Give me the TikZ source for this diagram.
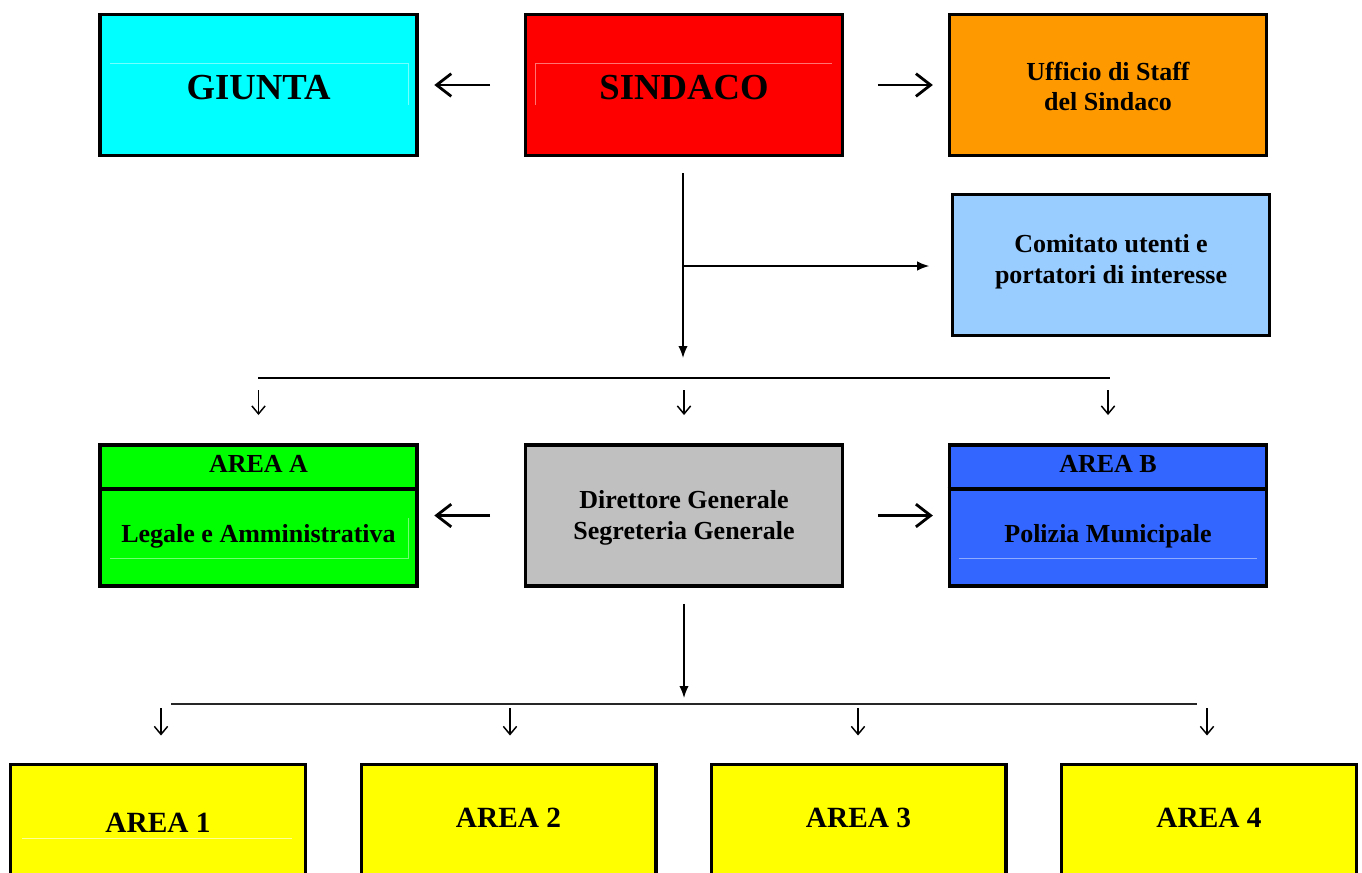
\documentclass[tikz,border=0pt]{standalone}
\usepackage{fontspec}
\setmainfont{Liberation Serif}
\usetikzlibrary{arrows.meta,calc}
\definecolor{cgiunta}{HTML}{00FFFF}
\definecolor{csind}{HTML}{FF0000}
\definecolor{cuff}{HTML}{FF9900}
\definecolor{ccom}{HTML}{99CCFF}
\definecolor{cgreen}{HTML}{00FF00}
\definecolor{cgray}{HTML}{C0C0C0}
\definecolor{cblue}{HTML}{3366FF}
\definecolor{cyel}{HTML}{FFFF00}
\begin{document}
\begin{tikzpicture}[x=0.75pt,y=-0.75pt,
  box/.style={draw=black, line width=2.7pt, minimum width=238pt, minimum height=106pt, inner sep=0pt},
  ybox/.style={draw=black, line width=2.5pt, fill=cyel, minimum width=221pt, minimum height=105pt, inner sep=0pt},
  lbl/.style={font=\bfseries\fontsize{19.5}{23}\selectfont, inner sep=0pt, anchor=base},
  biglbl/.style={font=\bfseries\fontsize{27.5}{32}\selectfont, inner sep=0pt, anchor=base},
  arealbl/.style={font=\bfseries\fontsize{22}{26}\selectfont, inner sep=0pt, anchor=base},
  gbig/.style={line width=2.1pt, -{Straight Barb[length=11pt,width=17pt,line width=2.1pt]}},
  gsmall/.style={line width=1.1pt, -{Straight Barb[length=6pt,width=10pt,line width=1.1pt]}},
  conn/.style={line width=1.1pt, -{Latex[length=9pt,width=7pt]}},
  busline/.style={line width=1.5pt},
  faint/.style={line width=0.6pt}
]
\useasboundingbox (0,0) rectangle (1362,872);
\clip (0,0) rectangle (1362,872);

% top row
\node[box, fill=cgiunta] (giunta) at (258.5,85) {};
\node[box, fill=csind] (sindaco) at (684,85) {};
\node[box, fill=cuff] (ufficio) at (1108,85) {};
\draw[faint, draw=cgiunta!55!white] (110,63) -- (408,63) -- (408,105);
\draw[faint, draw=csind!55!white] (832,63) -- (535,63) -- (535,105);
\node[biglbl] (tgiunta) at (258.5,99) {GIUNTA};
\node[biglbl] (tsindaco) at (684,99) {SINDACO};
\node[lbl] (tuff1) at (1108,80) {Ufficio di Staff};
\node[lbl] (tuff2) at (1108,110) {del Sindaco};

\draw[gbig, shorten <=25pt, shorten >=11.5pt] (sindaco.west) -- (giunta.east);
\draw[gbig, shorten <=25pt, shorten >=11pt] (sindaco.east) -- (ufficio.west);

% comitato
\node[box, fill=ccom] (comitato) at (1111,265) {};
\node[lbl] (tcom1) at (1111,252) {Comitato utenti e};
\node[lbl] (tcom2) at (1111,283) {portatori di interesse};

\coordinate (sdown) at (683,358);
\coordinate (branch) at (683,266);
\draw[conn, shorten <=12pt] (sindaco.south -| sdown) -- (sdown);
\draw[conn, shorten >=16pt] (branch) -- (branch -| comitato.west);

% bus 1
\coordinate (bus1L) at (258,378);
\coordinate (bus1R) at (1110,378);
\draw[busline] (bus1L) -- (bus1R);

% middle row
\node[box, fill=cgreen] (areaA) at (258.5,515.5) {};
\node[box, fill=cgray] (dir) at (684,515.5) {};
\node[box, fill=cblue] (areaB) at (1108,515.5) {};
\draw[line width=2.4pt] (areaA.west |- 0,489) -- (areaA.east |- 0,489);
\draw[line width=2.4pt] (areaB.west |- 0,489) -- (areaB.east |- 0,489);
\draw[faint, draw=cgreen!55!white] (110,558) -- (408,558) -- (408,518);
\draw[faint, draw=cblue!55!white] (959,558) -- (1257,558);
\node[lbl] (tareaA) at (258.5,472) {AREA A};
\node[lbl] (tlegale) at (258.5,542) {Legale e Amministrativa};
\node[lbl] (tdir1) at (684,508) {Direttore Generale};
\node[lbl] (tdir2) at (684,539) {Segreteria Generale};
\node[lbl] (tareaB) at (1108,472) {AREA B};
\node[lbl] (tpol) at (1108,542) {Polizia Municipale};

\draw[gsmall, shorten <=9pt, shorten >=21pt] (areaA.north |- bus1L) -- (areaA.north);
\draw[gsmall, shorten <=9pt, shorten >=21pt] (dir.north |- bus1L) -- (dir.north);
\draw[gsmall, shorten <=9pt, shorten >=21pt] (areaB.north |- bus1L) -- (areaB.north);

\draw[gbig, shorten <=25pt, shorten >=11.5pt] (dir.west) -- (areaA.east);
\draw[gbig, shorten <=25pt, shorten >=11pt] (dir.east) -- (areaB.west);

% bus 2
\coordinate (ddown) at (684,698);
\draw[conn, shorten <=12pt] (dir.south) -- (ddown);
\coordinate (bus2L) at (171,704);
\coordinate (bus2R) at (1197,704);
\draw[busline, line width=1.2pt, draw=black!85] (bus2L) -- (bus2R);

% bottom row
\node[ybox] (a1) at (158,834.5) {};
\node[ybox] (a2) at (508.5,834.5) {};
\node[ybox] (a3) at (858.5,834.5) {};
\node[ybox] (a4) at (1209,834.5) {};
\draw[faint, draw=cyel!40!white] (22,838) -- (292,838);
\node[arealbl] (ta1) at (158,832) {AREA 1};
\node[arealbl] (ta2) at (508.5,827) {AREA 2};
\node[arealbl] (ta3) at (858.5,827) {AREA 3};
\node[arealbl] (ta4) at (1209,827) {AREA 4};

\coordinate (t1) at (161,704);
\coordinate (t2) at (510,704);
\coordinate (t3) at (858,704);
\coordinate (t4) at (1207,704);
\draw[gsmall, shorten <=3pt, shorten >=20.5pt] (t1) -- (t1 |- a1.north);
\draw[gsmall, shorten <=3pt, shorten >=20.5pt] (t2) -- (t2 |- a2.north);
\draw[gsmall, shorten <=3pt, shorten >=20.5pt] (t3) -- (t3 |- a3.north);
\draw[gsmall, shorten <=3pt, shorten >=20.5pt] (t4) -- (t4 |- a4.north);
\end{tikzpicture}
\end{document}
